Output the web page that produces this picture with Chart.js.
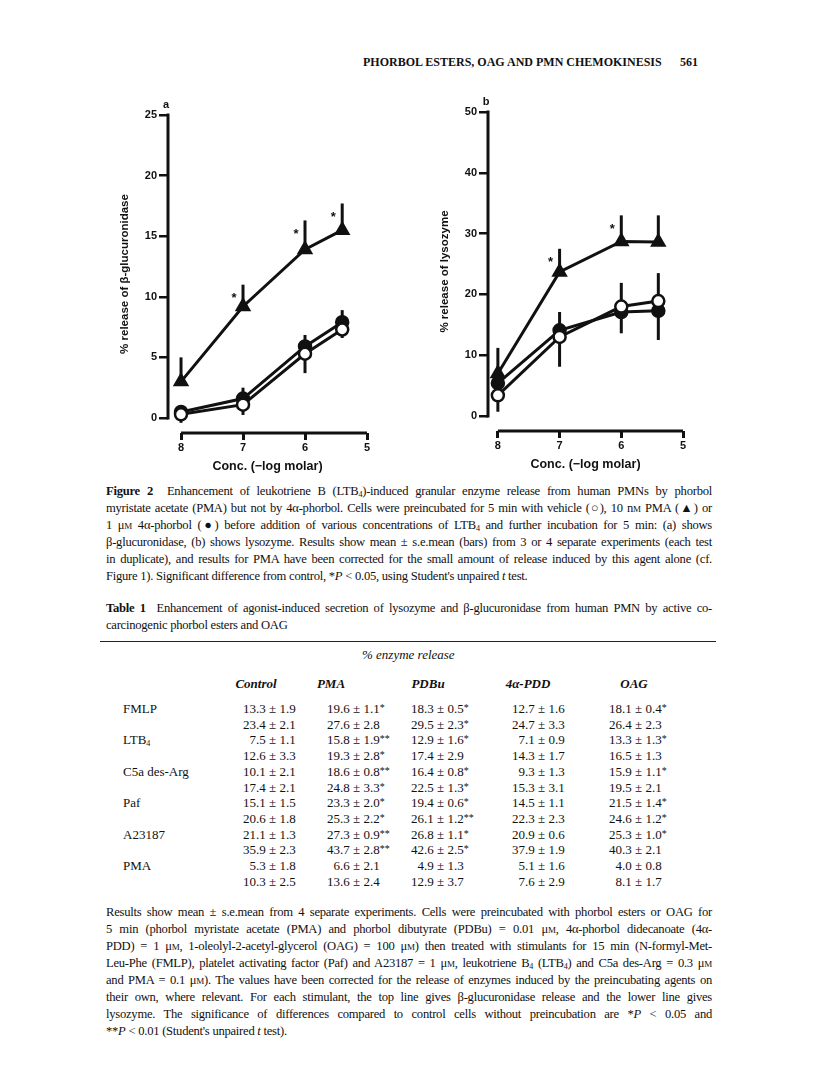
<!DOCTYPE html>
<html>
<head>
<meta charset="utf-8">
<script src="https://cdn.jsdelivr.net/npm/chart.js@4.4.0/dist/chart.umd.min.js"></script>
<style>
  body { margin: 0; background: #fff; }
  #page { position: relative; width: 816px; height: 1073px; overflow: hidden; font-family: "Liberation Serif", "Times New Roman", serif; color: #111; }
  canvas { position: absolute; }
  .t { position: absolute; white-space: nowrap; font-size: 13px; line-height: 14px; }
  .j { position: absolute; left: 106px; width: 606px; font-size: 12.6px; letter-spacing: -0.25px; line-height: 14px; white-space: nowrap; text-align: justify; text-align-last: justify; }
  .last { text-align-last: left; }
  .sc { font-variant: small-caps; }
  sub { font-size: 8px; line-height: 0; vertical-align: -2px; }
  .hd { font-style: italic; font-weight: bold; }
  .st { font-size: 10px; position: relative; top: -2px; }
</style>
</head>
<body>
<div id="page">
  <div class="t" style="left:363px; top:55px; font-weight:bold; font-size:12px;">PHORBOL ESTERS, OAG AND PMN CHEMOKINESIS</div>
  <div class="t" style="left:680px; top:55px; font-weight:bold; font-size:12px;">561</div>

  <canvas id="chartA" width="290" height="383" style="left:100px; top:95px;"></canvas>
  <canvas id="chartB" width="290" height="384" style="left:420px; top:92px;"></canvas>

  <div class="j" style="top:484px;"><b>Figure 2</b>&nbsp; Enhancement of leukotriene B (LTB<sub>4</sub>)-induced granular enzyme release from human PMNs by phorbol</div>
  <div class="j" style="top:501px;">myristate acetate (PMA) but not by 4α-phorbol. Cells were preincubated for 5 min with vehicle (○), 10 n<span class="sc">m</span> PMA (▲) or</div>
  <div class="j" style="top:518px;">1 μ<span class="sc">m</span> 4α-phorbol (●) before addition of various concentrations of LTB<sub>4</sub> and further incubation for 5 min: (a) shows</div>
  <div class="j" style="top:535px;">β-glucuronidase, (b) shows lysozyme. Results show mean ± s.e.mean (bars) from 3 or 4 separate experiments (each test</div>
  <div class="j" style="top:552px;">in duplicate), and results for PMA have been corrected for the small amount of release induced by this agent alone (cf.</div>
  <div class="j last" style="top:569px;">Figure 1). Significant difference from control, *<i>P</i> &lt; 0.05, using Student's unpaired <i>t</i> test.</div>

  <div class="j" style="top:601px;"><b>Table 1</b>&nbsp; Enhancement of agonist-induced secretion of lysozyme and β-glucuronidase from human PMN by active co-</div>
  <div class="j last" style="top:618px;">carcinogenic phorbol esters and OAG</div>
  <div style="position:absolute; left:100px; top:641px; width:616px; height:0; border-top:1.5px solid #222;"></div>
  <div class="t" style="left:362px; top:648px; font-style:italic;">% enzyme release</div>
  <div id="table"></div>

  <div class="j" style="top:905px;">Results show mean ± s.e.mean from 4 separate experiments. Cells were preincubated with phorbol esters or OAG for</div>
  <div class="j" style="top:922px;">5 min (phorbol myristate acetate (PMA) and phorbol dibutyrate (PDBu) = 0.01 μ<span class="sc">m</span>, 4α-phorbol didecanoate (4α-</div>
  <div class="j" style="top:939px;">PDD) = 1 μ<span class="sc">m</span>, 1-oleolyl-2-acetyl-glycerol (OAG) = 100 μ<span class="sc">m</span>) then treated with stimulants for 15 min (N-formyl-Met-</div>
  <div class="j" style="top:956px;">Leu-Phe (FMLP), platelet activating factor (Paf) and A23187 = 1 μ<span class="sc">m</span>, leukotriene B<sub>4</sub> (LTB<sub>4</sub>) and C5a des-Arg = 0.3 μ<span class="sc">m</span></div>
  <div class="j" style="top:973px;">and PMA = 0.1 μ<span class="sc">m</span>). The values have been corrected for the release of enzymes induced by the preincubating agents on</div>
  <div class="j" style="top:990px;">their own, where relevant. For each stimulant, the top line gives β-glucuronidase release and the lower line gives</div>
  <div class="j" style="top:1007px;">lysozyme. The significance of differences compared to control cells without preincubation are *<i>P</i> &lt; 0.05 and</div>
  <div class="j last" style="top:1024px;">**<i>P</i> &lt; 0.01 (Student's unpaired <i>t</i> test).</div>
</div>

<script>
// x values: LTB4 concentration (-log molar)
const conc = [8, 7, 6, 5.4];
const xTicks = [8, 7, 6, 5];

// panel a: beta-glucuronidase release (%)
const glucTicks = [0, 5, 10, 15, 20, 25];
const glucVehicle = [0.3, 1.1, 5.3, 7.3];
const glucVehicleErr = [-0.7, -0.85, -1.6, -0.7];
const glucPhorbol = [0.5, 1.6, 5.9, 7.9];
const glucPhorbolErr = [0.5, 0.9, 0.95, 1.0];
const glucPMA = [3.0, 9.2, 13.9, 15.5];
const glucPMAErr = [2.0, 1.8, 2.4, 2.2];
const glucSignif = [false, true, true, true];

// panel b: lysozyme release (%)
const lysoTicks = [0, 10, 20, 30, 40, 50];
const lysoVehicle = [3.4, 13.0, 18.0, 18.9];
const lysoVehicleErr = [-2.7, -4.9, 3.9, 4.6];
const lysoPhorbol = [5.4, 14.1, 17.1, 17.3];
const lysoPhorbolErr = [0, 3.0, -3.5, -4.8];
const lysoPMA = [7.0, 23.7, 28.7, 28.6];
const lysoPMAErr = [4.2, 3.8, 4.3, 4.4];
const lysoSignif = [false, true, true, false];

// table 1
const tableCols = ["Control", "PMA", "PDBu", "4α-PDD", "OAG"];
const tableRows = [
  ["FMLP", "13.3 ± 1.9", "19.6 ± 1.1*", "18.3 ± 0.5*", "12.7 ± 1.6", "18.1 ± 0.4*"],
  ["", "23.4 ± 2.1", "27.6 ± 2.8", "29.5 ± 2.3*", "24.7 ± 3.3", "26.4 ± 2.3"],
  ["LTB<sub>4</sub>", "7.5 ± 1.1", "15.8 ± 1.9**", "12.9 ± 1.6*", "7.1 ± 0.9", "13.3 ± 1.3*"],
  ["", "12.6 ± 3.3", "19.3 ± 2.8*", "17.4 ± 2.9", "14.3 ± 1.7", "16.5 ± 1.3"],
  ["C5a des-Arg", "10.1 ± 2.1", "18.6 ± 0.8**", "16.4 ± 0.8*", "9.3 ± 1.3", "15.9 ± 1.1*"],
  ["", "17.4 ± 2.1", "24.8 ± 3.3*", "22.5 ± 1.3*", "15.3 ± 3.1", "19.5 ± 2.1"],
  ["Paf", "15.1 ± 1.5", "23.3 ± 2.0*", "19.4 ± 0.6*", "14.5 ± 1.1", "21.5 ± 1.4*"],
  ["", "20.6 ± 1.8", "25.3 ± 2.2*", "26.1 ± 1.2**", "22.3 ± 2.3", "24.6 ± 1.2*"],
  ["A23187", "21.1 ± 1.3", "27.3 ± 0.9**", "26.8 ± 1.1*", "20.9 ± 0.6", "25.3 ± 1.0*"],
  ["", "35.9 ± 2.3", "43.7 ± 2.8**", "42.6 ± 2.5*", "37.9 ± 1.9", "40.3 ± 2.1"],
  ["PMA", "5.3 ± 1.8", "6.6 ± 2.1", "4.9 ± 1.3", "5.1 ± 1.6", "4.0 ± 0.8"],
  ["", "10.3 ± 2.5", "13.6 ± 2.4", "12.9 ± 3.7", "7.6 ± 2.9", "8.1 ± 1.7"]
];

// build the table text
const colLeft = [243, 327, 411, 512, 609];
const headCenter = [256, 331, 428, 528, 634];
let html = "";
tableCols.forEach((c, i) => {
  html += `<div class="t hd" style="left:${headCenter[i] - 40}px; width:80px; text-align:center; top:677px;">${c}</div>`;
});
tableRows.forEach((r, k) => {
  const top = 702 + k * 15.7;
  if (r[0]) html += `<div class="t" style="left:123px; top:${top}px;">${r[0]}</div>`;
  r.slice(1).forEach((v, i) => {
    const pad = v.indexOf(".") === 1 ? 6.5 : 0;
    const txt = v.replace(/(\*+)$/, '<span class="st">$1</span>');
    html += `<div class="t" style="left:${colLeft[i] + pad}px; top:${top}px;">${txt}</div>`;
  });
});
document.getElementById("table").innerHTML = html;

const ink = "#111";
const sans = "'Liberation Sans', Arial, sans-serif";

const decor = {
  id: "decor",
  beforeDatasetsDraw(chart) {
    const { ctx, chartArea, scales: { x, y } } = chart;
    const opt = chart.options.plugins.decor;
    ctx.save();
    ctx.strokeStyle = ink;
    ctx.lineWidth = 3;
    // y axis line, from top tick down to zero
    ctx.beginPath();
    ctx.moveTo(chartArea.left, y.getPixelForValue(opt.yTop) - 1.5);
    ctx.lineTo(chartArea.left, y.getPixelForValue(0) + 1.5);
    ctx.stroke();
    // x axis bracket
    ctx.beginPath();
    ctx.moveTo(x.getPixelForValue(xTicks[0]), chartArea.bottom);
    ctx.lineTo(x.getPixelForValue(xTicks[xTicks.length - 1]), chartArea.bottom);
    ctx.stroke();
    // one-sided error bars
    chart.data.datasets.forEach(ds => {
      ds.data.forEach((p, i) => {
        const e = ds.err[i];
        if (!e) return;
        const px = x.getPixelForValue(p.x);
        ctx.beginPath();
        ctx.moveTo(px, y.getPixelForValue(p.y));
        ctx.lineTo(px, y.getPixelForValue(p.y + e));
        ctx.stroke();
      });
    });
    ctx.restore();
  },
  afterDatasetsDraw(chart) {
    const { ctx, chartArea, scales: { x, y } } = chart;
    const opt = chart.options.plugins.decor;
    ctx.save();
    ctx.fillStyle = ink;
    ctx.textAlign = "center";
    ctx.textBaseline = "middle";
    ctx.font = "bold 13px " + sans;
    chart.data.datasets.forEach(ds => {
      if (!ds.signif) return;
      ds.data.forEach((p, i) => {
        if (!ds.signif[i]) return;
        ctx.fillText("*", x.getPixelForValue(p.x) - 9, y.getPixelForValue(p.y + ds.err[i]) + 14);
      });
    });
    ctx.font = "bold 11px " + sans;
    ctx.fillText(opt.letter, chartArea.left - 2, chartArea.top - 10);
    ctx.restore();
  }
};

function series(vals, err, style, fill, radius, signif) {
  return {
    data: conc.map((c, i) => ({ x: c, y: vals[i] })),
    err: err,
    signif: signif,
    borderColor: ink,
    borderWidth: 3,
    pointStyle: style,
    pointRadius: radius,
    pointBackgroundColor: fill,
    pointBorderColor: ink,
    pointBorderWidth: 2.5,
    tension: 0
  };
}

function panel(id, p) {
  return new Chart(document.getElementById(id), {
    type: "line",
    data: {
      datasets: [
        series(p.vehicle, p.vehicleErr, "circle", "#fff", 6),
        series(p.phorbol, p.phorbolErr, "circle", ink, 6),
        series(p.pma, p.pmaErr, "triangle", ink, 7, p.signif)
      ]
    },
    options: {
      responsive: false,
      animation: false,
      devicePixelRatio: 1,
      layout: { padding: { top: 20, right: p.padRight, left: 0, bottom: 0 } },
      plugins: {
        legend: { display: false },
        tooltip: { enabled: false },
        decor: { letter: p.letter, yTop: p.yTicks[p.yTicks.length - 1] }
      },
      scales: {
        x: {
          type: "linear",
          reverse: true,
          min: 5,
          max: p.xMax,
          afterBuildTicks: s => { s.ticks = xTicks.map(v => ({ value: v })); },
          afterFit: s => { s.height = 45; },
          border: { display: false },
          grid: { drawOnChartArea: false, drawTicks: true, tickLength: 7, lineWidth: 3, color: ink },
          ticks: { color: ink, padding: 1, font: { family: sans, size: 11, weight: "bold" }, maxRotation: 0 },
          title: { display: true, text: "Conc. (\u2212log molar)", color: ink, padding: { top: 0, bottom: 4 }, font: { family: sans, size: 12.5, weight: "bold" } }
        },
        y: {
          min: p.yMin,
          max: p.yTicks[p.yTicks.length - 1],
          afterBuildTicks: s => { s.ticks = p.yTicks.map(v => ({ value: v })); },
          afterFit: s => { s.width = 68; },
          border: { display: false },
          grid: { drawOnChartArea: false, drawTicks: true, tickLength: 9, lineWidth: 2.5, color: ink },
          ticks: { color: ink, padding: 2, font: { family: sans, size: 11, weight: "bold" } },
          title: { display: true, text: p.yTitle, color: ink, padding: { top: 18, bottom: 0 }, font: { family: sans, size: 11.5, weight: "bold" } }
        }
      }
    },
    plugins: [decor]
  });
}

panel("chartA", {
  letter: "a", yTitle: "% release of \u03b2-glucuronidase",
  yTicks: glucTicks, yMin: -1.24, xMax: 8.21, padRight: 23,
  vehicle: glucVehicle, vehicleErr: glucVehicleErr,
  phorbol: glucPhorbol, phorbolErr: glucPhorbolErr,
  pma: glucPMA, pmaErr: glucPMAErr, signif: glucSignif
});

panel("chartB", {
  letter: "b", yTitle: "% release of lysozyme",
  yTicks: lysoTicks, yMin: -2.47, xMax: 8.16, padRight: 27,
  vehicle: lysoVehicle, vehicleErr: lysoVehicleErr,
  phorbol: lysoPhorbol, phorbolErr: lysoPhorbolErr,
  pma: lysoPMA, pmaErr: lysoPMAErr, signif: lysoSignif
});
</script>
</body>
</html>
